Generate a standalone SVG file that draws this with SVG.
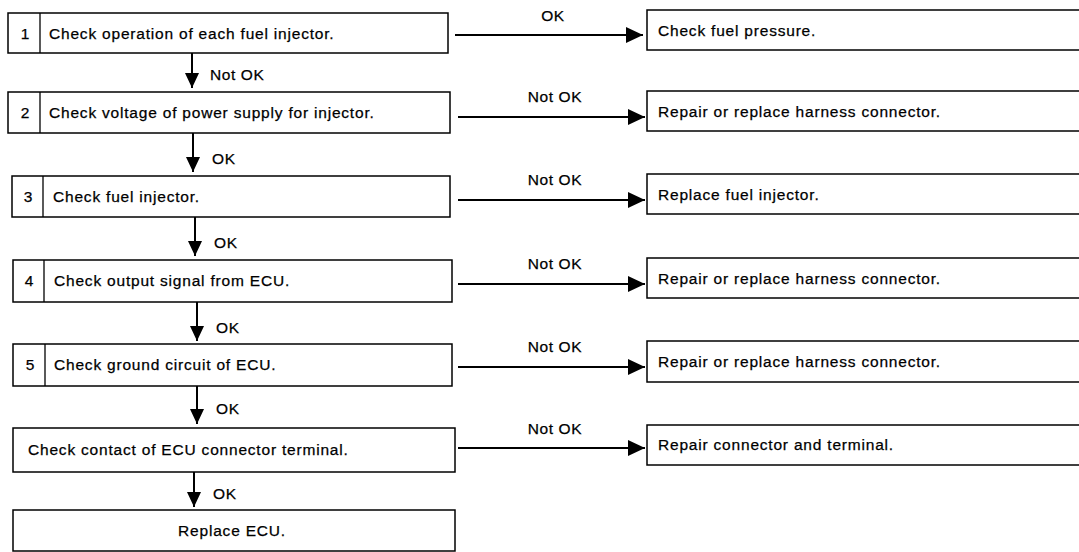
<svg xmlns="http://www.w3.org/2000/svg" width="1079" height="552" viewBox="0 0 1079 552">
  <style>
    .box { fill: #fff; stroke: #000; stroke-width: 1.5; }
    .div { stroke: #000; stroke-width: 1.3; }
    .t { font-family: "Liberation Sans", Arial, sans-serif; font-size: 15.5px; letter-spacing: 0.8px; fill: #000; stroke: #000; stroke-width: 0.25; }
    .num { font-family: "Liberation Sans", Arial, sans-serif; font-size: 15.5px; fill: #000; stroke: #000; stroke-width: 0.25; text-anchor: middle; }
    .lbl { font-family: "Liberation Sans", Arial, sans-serif; font-size: 15.5px; letter-spacing: 0.6px; fill: #000; stroke: #000; stroke-width: 0.25; }
    .mid { text-anchor: middle; }
    .edge { stroke: #000; stroke-width: 2; fill: none; }
  </style>
  <defs>
    <marker id="headR" markerUnits="userSpaceOnUse" markerWidth="17" markerHeight="16" refX="17" refY="8" orient="auto">
      <path d="M0,0 L17,8 L0,16 z" fill="#000"/>
    </marker>
    <marker id="headD" markerUnits="userSpaceOnUse" markerWidth="15" markerHeight="14" refX="15" refY="7" orient="auto">
      <path d="M0,0 L15,7 L0,14 z" fill="#000"/>
    </marker>
  </defs>
  <rect width="1079" height="552" fill="#fff"/>

  <!-- check steps (left column) -->
  <g id="step1">
    <rect class="box" x="8" y="13" width="440" height="40"/>
    <line class="div" x1="40" y1="13" x2="40" y2="53"/>
    <text class="num" x="25" y="39">1</text>
    <text class="t" x="49" y="39">Check operation of each fuel injector.</text>
  </g>
  <g id="step2">
    <rect class="box" x="8" y="92" width="442" height="41"/>
    <line class="div" x1="40" y1="92" x2="40" y2="133"/>
    <text class="num" x="25" y="118">2</text>
    <text class="t" x="49" y="118">Check voltage of power supply for injector.</text>
  </g>
  <g id="step3">
    <rect class="box" x="12" y="176" width="438" height="41"/>
    <line class="div" x1="43" y1="176" x2="43" y2="217"/>
    <text class="num" x="28" y="202">3</text>
    <text class="t" x="53" y="202">Check fuel injector.</text>
  </g>
  <g id="step4">
    <rect class="box" x="13" y="260" width="439" height="42"/>
    <line class="div" x1="44" y1="260" x2="44" y2="302"/>
    <text class="num" x="29" y="286">4</text>
    <text class="t" x="54" y="286">Check output signal from ECU.</text>
  </g>
  <g id="step5">
    <rect class="box" x="13" y="344" width="439" height="42"/>
    <line class="div" x1="45" y1="344" x2="45" y2="386"/>
    <text class="num" x="30" y="370">5</text>
    <text class="t" x="54" y="370">Check ground circuit of ECU.</text>
  </g>
  <g id="step6">
    <rect class="box" x="13" y="428" width="442" height="44"/>
    <text class="t" x="28" y="455">Check contact of ECU connector terminal.</text>
  </g>
  <g id="step7">
    <rect class="box" x="13" y="510" width="442" height="41"/>
    <text class="t mid" x="232" y="536">Replace ECU.</text>
  </g>

  <!-- outcomes (right column), boxes run off the right edge -->
  <g id="result1">
    <rect class="box" x="647" y="10" width="450" height="40"/>
    <text class="t" x="658" y="36">Check fuel pressure.</text>
  </g>
  <g id="result2">
    <rect class="box" x="647" y="91" width="450" height="40"/>
    <text class="t" x="658" y="117">Repair or replace harness connector.</text>
  </g>
  <g id="result3">
    <rect class="box" x="647" y="174" width="450" height="40"/>
    <text class="t" x="658" y="200">Replace fuel injector.</text>
  </g>
  <g id="result4">
    <rect class="box" x="647" y="258" width="450" height="40"/>
    <text class="t" x="658" y="284">Repair or replace harness connector.</text>
  </g>
  <g id="result5">
    <rect class="box" x="647" y="341" width="450" height="41"/>
    <text class="t" x="658" y="367">Repair or replace harness connector.</text>
  </g>
  <g id="result6">
    <rect class="box" x="647" y="425" width="450" height="40"/>
    <text class="t" x="658" y="450">Repair connector and terminal.</text>
  </g>

  <!-- connectors -->
  <g id="connectors">
    <!-- downward flow -->
    <line class="edge" x1="192" y1="53" x2="192" y2="88" marker-end="url(#headD)"/>
    <text class="lbl" x="210" y="80">Not OK</text>
    <line class="edge" x1="193" y1="133" x2="193" y2="172" marker-end="url(#headD)"/>
    <text class="lbl" x="212" y="164">OK</text>
    <line class="edge" x1="195" y1="217" x2="195" y2="256" marker-end="url(#headD)"/>
    <text class="lbl" x="214" y="248">OK</text>
    <line class="edge" x1="197" y1="302" x2="197" y2="341" marker-end="url(#headD)"/>
    <text class="lbl" x="216" y="333">OK</text>
    <line class="edge" x1="197" y1="386" x2="197" y2="424" marker-end="url(#headD)"/>
    <text class="lbl" x="216" y="414">OK</text>
    <line class="edge" x1="194" y1="472" x2="194" y2="507" marker-end="url(#headD)"/>
    <text class="lbl" x="213" y="499">OK</text>

    <!-- branches to the right -->
    <line class="edge" x1="455" y1="35" x2="643" y2="35" marker-end="url(#headR)"/>
    <text class="lbl mid" x="553" y="21">OK</text>
    <line class="edge" x1="458" y1="117" x2="645" y2="117" marker-end="url(#headR)"/>
    <text class="lbl mid" x="555" y="102">Not OK</text>
    <line class="edge" x1="458" y1="200" x2="645" y2="200" marker-end="url(#headR)"/>
    <text class="lbl mid" x="555" y="185">Not OK</text>
    <line class="edge" x1="458" y1="284" x2="645" y2="284" marker-end="url(#headR)"/>
    <text class="lbl mid" x="555" y="269">Not OK</text>
    <line class="edge" x1="458" y1="367" x2="645" y2="367" marker-end="url(#headR)"/>
    <text class="lbl mid" x="555" y="352">Not OK</text>
    <line class="edge" x1="458" y1="448" x2="645" y2="448" marker-end="url(#headR)"/>
    <text class="lbl mid" x="555" y="434">Not OK</text>
  </g>
</svg>
